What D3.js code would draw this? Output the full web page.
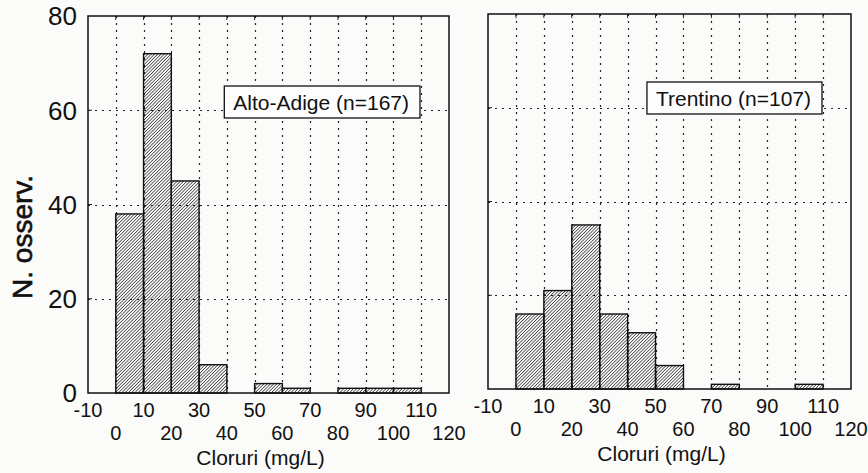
<!DOCTYPE html>
<html>
<head>
<meta charset="utf-8">
<script src="https://cdn.jsdelivr.net/npm/d3@7"></script>
<style>
  body { margin: 0; background: #fbfbfa; }
  svg { font-family: "Liberation Sans", Arial, sans-serif; }
</style>
</head>
<body>
<div id="chart"></div>
<script>
// bin starts (mg/L), each bin is 10 wide
var binStarts = [0, 10, 20, 30, 40, 50, 60, 70, 80, 90, 100];
var altoAdige = [38, 72, 45, 6, 0, 2, 1, 0, 1, 1, 1];
var trentino = [16, 21, 35, 16, 12, 5, 0, 1, 0, 0, 1];
var xTicks = [-10, 0, 10, 20, 30, 40, 50, 60, 70, 80, 90, 100, 110, 120];
var yTicks = [0, 20, 40, 60, 80];
var gridX = [0, 10, 20, 30, 40, 50, 60, 70, 80, 90, 100, 110];
var gridY = [20, 40, 60];

var W = 868, H = 473;
var svg = d3.select('#chart').append('svg')
  .attr('width', W)
  .attr('height', H);

// hatch pattern
svg.append('defs').append('pattern')
  .attr('id', 'hatch')
  .attr('patternUnits', 'userSpaceOnUse')
  .attr('width', 2.3)
  .attr('height', 2.3)
  .attr('patternTransform', 'rotate(45)')
  .append('line')
  .attr('x1', 0).attr('y1', 0)
  .attr('x2', 0).attr('y2', 2.3)
  .attr('stroke', '#1e1e1e')
  .attr('stroke-width', 1.3);

var panels = [
  { name: 'Alto-Adige (n=167)', values: altoAdige, x0: 88, x1: 449, y0: 16, y1: 393, yLabels: true, boxTop: 86 },
  { name: 'Trentino (n=107)', values: trentino, x0: 488, x1: 851, y0: 14, y1: 389, yLabels: false, boxTop: 82 }
];

panels.forEach(function(p) {
  var x = d3.scaleLinear().domain([-10, 120]).range([p.x0, p.x1]);
  var y = d3.scaleLinear().domain([0, 80]).range([p.y1, p.y0]);
  var g = svg.append('g');

  // dotted grid
  g.selectAll('line.gx').data(gridX).enter().append('line')
    .attr('class', 'gx')
    .attr('x1', function(d) { return Math.round(x(d)) + 0.5; })
    .attr('x2', function(d) { return Math.round(x(d)) + 0.5; })
    .attr('y1', p.y0).attr('y2', p.y1)
    .style('stroke', '#222').style('stroke-width', 1.2)
    .style('stroke-dasharray', '2,5');
  g.selectAll('line.gy').data(gridY).enter().append('line')
    .attr('class', 'gy')
    .attr('x1', p.x0).attr('x2', p.x1)
    .attr('y1', function(d) { return Math.round(y(d)) + 0.5; })
    .attr('y2', function(d) { return Math.round(y(d)) + 0.5; })
    .style('stroke', '#222').style('stroke-width', 1.2)
    .style('stroke-dasharray', '2,5');

  // bars
  g.selectAll('rect.bar')
    .data(p.values.map(function(v, i) { return { x: binStarts[i], v: v }; }).filter(function(d) { return d.v > 0; }))
    .enter()
    .append('rect')
    .attr('class', 'bar')
    .attr('x', function(d) { return x(d.x); })
    .attr('width', function(d) { return x(d.x + 10) - x(d.x); })
    .attr('y', function(d) { return y(d.v); })
    .attr('height', function(d) { return y(0) - y(d.v); })
    .attr('fill', 'url(#hatch)')
    .attr('stroke', '#111')
    .attr('stroke-width', 1.4);

  // inner ticks on the frame
  g.selectAll('line.tt').data(gridX).enter().append('line')
    .attr('class', 'tt')
    .attr('x1', function(d) { return x(d); })
    .attr('x2', function(d) { return x(d); })
    .attr('y1', p.y0).attr('y2', p.y0 + 4)
    .attr('stroke', '#222');
  g.selectAll('line.tl').data(gridY).enter().append('line')
    .attr('class', 'tl')
    .attr('x1', p.x0).attr('x2', p.x0 + 4)
    .attr('y1', function(d) { return y(d); })
    .attr('y2', function(d) { return y(d); })
    .attr('stroke', '#222');

  // frame
  g.append('rect')
    .attr('x', p.x0).attr('y', p.y0)
    .attr('width', p.x1 - p.x0).attr('height', p.y1 - p.y0)
    .attr('fill', 'none')
    .attr('stroke', '#111')
    .attr('stroke-width', 1.5);

  // x tick labels, staggered rows
  g.selectAll('text.xt').data(xTicks).enter().append('text')
    .attr('class', 'xt')
    .attr('x', function(d) { return x(d); })
    .attr('y', function(d, i) { return i % 2 === 0 ? p.y1 + 24 : p.y1 + 47; })
    .attr('text-anchor', 'middle')
    .attr('font-size', 20)
    .attr('fill', '#111')
    .text(function(d) { return d; });

  if (p.yLabels) {
    g.selectAll('text.yt').data(yTicks).enter().append('text')
      .attr('class', 'yt')
      .attr('x', p.x0 - 11)
      .attr('y', function(d) { return y(d); })
      .attr('dy', '0.36em')
      .attr('text-anchor', 'end')
      .attr('font-size', 26)
      .attr('fill', '#111')
      .text(function(d) { return d; });
    svg.append('text')
      .attr('transform', 'translate(32,237) rotate(-90)')
      .attr('text-anchor', 'middle')
      .attr('font-size', 28)
      .attr('fill', '#111')
      .attr('stroke', '#111')
      .attr('stroke-width', 0.6)
      .text('N. osserv.');
  }

  g.append('text')
    .attr('x', (p.x0 + p.x1) / 2 - 8)
    .attr('y', p.y1 + 72)
    .attr('text-anchor', 'middle')
    .attr('font-size', 21)
    .attr('fill', '#111')
    .text('Cloruri (mg/L)');

  // legend box
  var lg = g.append('g');
  var box = lg.append('rect');
  var t = lg.append('text')
    .attr('font-size', 21)
    .attr('fill', '#111')
    .text(p.name);
  var tw = t.node().getComputedTextLength();
  var bw = tw + 20, bh = 32;
  var bx = p.x1 - 29 - bw;
  box.attr('x', bx).attr('y', p.boxTop)
    .attr('width', bw).attr('height', bh)
    .attr('fill', '#fdfdfd')
    .attr('stroke', '#111')
    .attr('stroke-width', 1.3);
  t.attr('x', bx + 9).attr('y', p.boxTop + 24);
});
</script>
</body>
</html>
